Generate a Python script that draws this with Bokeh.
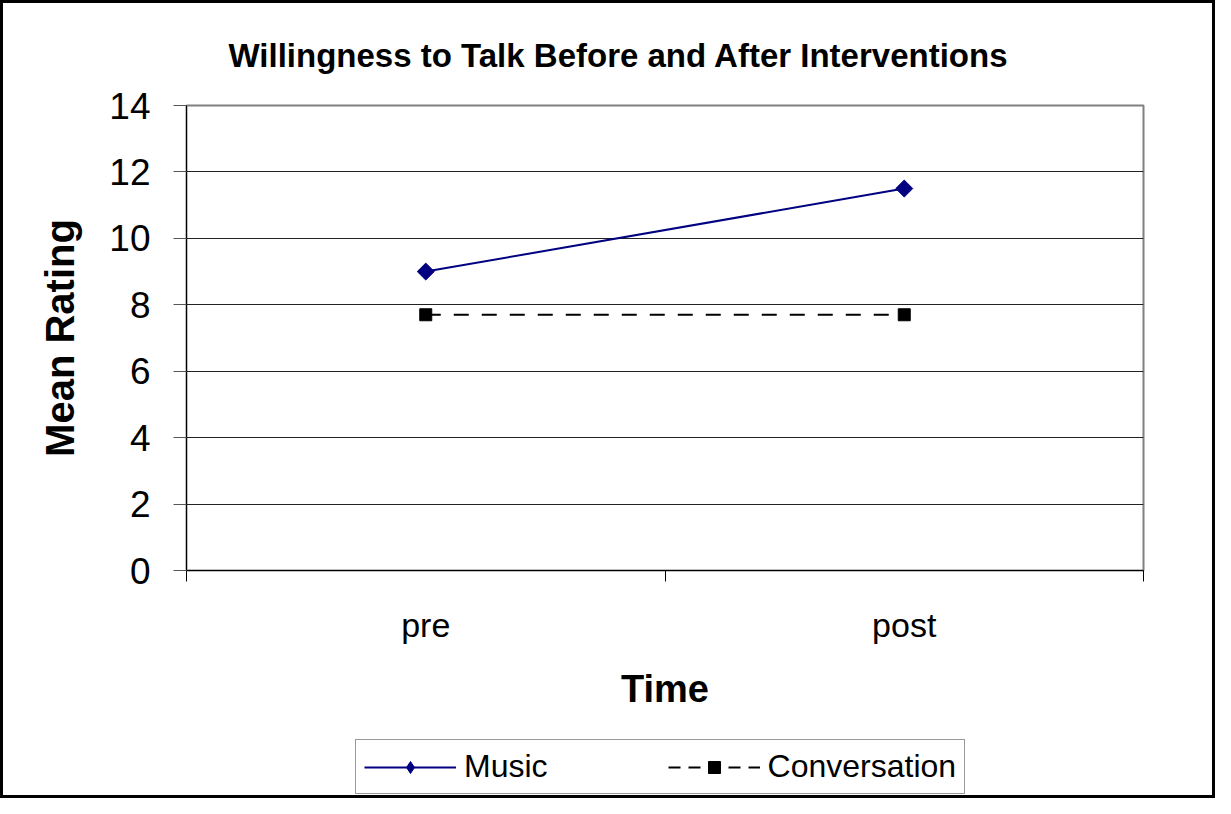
import math
from bokeh.plotting import figure
from bokeh.layouts import column
from bokeh.models import FixedTicker, Legend, LegendItem, Range1d
from bokeh.embed import file_html
from bokeh.resources import INLINE

# ---- data ----
categories = ["pre", "post"]
music = [9.0, 11.5]
conversation = [7.7, 7.7]
y_ticks = [0, 2, 4, 6, 8, 10, 12, 14]
series_names = ["Music", "Conversation"]
title_text = "Willingness to Talk Before and After Interventions"
x_label = "Time"
y_label = "Mean Rating"

x = [i + 0.5 for i in range(len(categories))]
boundaries = [float(i) for i in range(len(categories) + 1)]

FONT = "Liberation Sans"
TXT = "black"
W = 1209
H_MAIN = 726
H_LEG = 66

p = figure(width=W, height=H_MAIN, output_backend="svg", toolbar_location=None,
           x_range=Range1d(0, len(categories)), y_range=Range1d(0, 14),
           min_border_left=183, min_border_right=69, min_border_top=100,
           min_border_bottom=159)
p.background_fill_color = "white"
p.border_fill_color = "white"
p.outline_line_color = "#808080"
p.outline_line_width = 2

# title
p.title.text = title_text
p.title.text_font = FONT
p.title.text_font_style = "bold"
p.title.text_font_size = "33px"
p.title.text_color = TXT
p.title.align = "left"
p.title.offset = 42
p.title.standoff = 63

# grid
p.xgrid.visible = False
p.ygrid.ticker = FixedTicker(ticks=y_ticks[1:-1])
p.ygrid.grid_line_color = "#222222"
p.ygrid.grid_line_width = 1

# y axis
ya = p.yaxis[0]
ya.ticker = FixedTicker(ticks=y_ticks)
ya.axis_line_color = "black"
ya.major_tick_out = 13
ya.major_tick_in = 0
ya.major_tick_line_color = "#555555"
ya.minor_tick_line_color = None
ya.major_label_text_font = FONT
ya.major_label_text_font_size = "37px"
ya.major_label_text_color = TXT
ya.major_label_standoff = 23
ya.axis_label = y_label
ya.axis_label_text_font = FONT
ya.axis_label_text_font_style = "bold"
ya.axis_label_text_font_size = "40px"
ya.axis_label_text_color = TXT
ya.axis_label_standoff = 24

# x axis
xa = p.xaxis[0]
xa.ticker = FixedTicker(ticks=x, minor_ticks=boundaries)
xa.major_label_overrides = {xv: c for xv, c in zip(x, categories)}
xa.axis_line_color = "black"
xa.major_tick_line_color = None
xa.major_tick_out = 0
xa.major_tick_in = 0
xa.minor_tick_line_color = "black"
xa.minor_tick_out = 11
xa.minor_tick_in = 0
xa.major_label_text_font = FONT
xa.major_label_text_font_size = "34px"
xa.major_label_text_color = TXT
xa.major_label_standoff = 24
xa.axis_label = x_label
xa.axis_label_text_font = FONT
xa.axis_label_text_font_style = "bold"
xa.axis_label_text_font_size = "38px"
xa.axis_label_text_color = TXT
xa.axis_label_standoff = 21

# series
MUSIC_COLOR = "#000080"
CONV_COLOR = "black"
DASH = "15 13"
p.line(x, music, line_color=MUSIC_COLOR, line_width=2)
p.scatter(x, music, marker="square", size=12, angle=math.pi / 4,
          fill_color=MUSIC_COLOR, line_color=MUSIC_COLOR)
p.line(x, conversation, line_color=CONV_COLOR, line_width=2, line_dash=DASH)
p.scatter(x, conversation, marker="square", size=12,
          fill_color=CONV_COLOR, line_color=CONV_COLOR)

# legend strip (separate canvas so the legend is not clipped by the plot frame);
# its series renderers lie outside its view range, only their legend glyphs show
q = figure(width=W, height=H_LEG, output_backend="svg", toolbar_location=None,
           x_axis_type=None, y_axis_type=None, min_border=0,
           x_range=Range1d(0, len(categories)), y_range=Range1d(-2, -1))
q.outline_line_color = None
q.xgrid.visible = False
q.ygrid.visible = False
q.background_fill_color = "white"
q.border_fill_color = "white"
lm1 = q.line(x, music, line_color=MUSIC_COLOR, line_width=2)
lm2 = q.scatter(x, music, marker="diamond", size=20,
                fill_color=MUSIC_COLOR, line_color=MUSIC_COLOR)
lc1 = q.line(x, conversation, line_color=CONV_COLOR, line_width=2, line_dash="12 8")
lc2 = q.scatter(x, conversation, marker="square", size=11,
                fill_color=CONV_COLOR, line_color=CONV_COLOR)

legend = Legend(items=[LegendItem(label=series_names[0], renderers=[lm1, lm2]),
                       LegendItem(label=series_names[1], renderers=[lc1, lc2])],
                orientation="horizontal", location=(169, 1),
                glyph_width=92, glyph_height=30, label_height=30,
                label_standoff=8, spacing=120, padding=8, margin=0,
                border_line_color="#333333", border_line_width=1,
                background_fill_color="white", background_fill_alpha=1,
                label_text_font=FONT, label_text_font_size="32px",
                label_text_color=TXT)
q.add_layout(legend, "center")

layout = column(p, q, spacing=0, styles={"border": "3px solid black"})

open("out.html", "w").write(file_html(layout, INLINE))
